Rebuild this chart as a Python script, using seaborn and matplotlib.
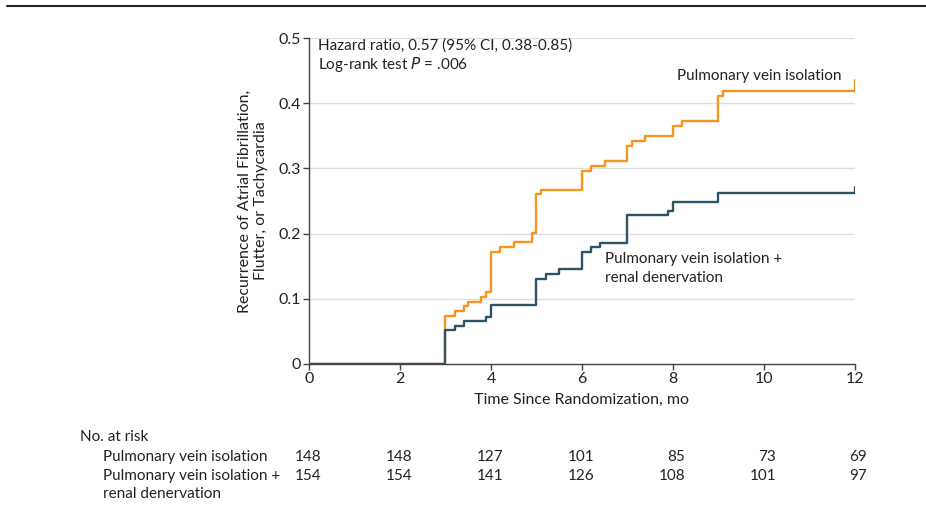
import pandas as pd
import numpy as np
import matplotlib.pyplot as plt
import matplotlib.transforms as mtransforms
import seaborn as sns

# Kaplan-Meier style cumulative incidence
pvi_time = [0, 3.0, 3.21, 3.40, 3.50, 3.79, 3.90, 4.0, 4.19, 4.50, 4.91, 5.0, 5.10,
            6.0, 6.2, 6.5, 7.0, 7.1, 7.39, 8.0, 8.2, 9.0, 9.1, 12.0]
pvi_rate = [0, 0.073, 0.081, 0.0885, 0.095, 0.102, 0.110, 0.172, 0.1795, 0.187, 0.201,
            0.260, 0.267, 0.296, 0.303, 0.311, 0.334, 0.342, 0.349, 0.365, 0.372,
            0.411, 0.418, 0.435]
rdn_time = [0, 3.0, 3.21, 3.40, 3.90, 4.0, 5.0, 5.2, 5.5, 6.0, 6.2, 6.4, 7.0, 7.9,
            8.0, 9.0, 12.0]
rdn_rate = [0, 0.0517, 0.059, 0.0655, 0.072, 0.091, 0.131, 0.138, 0.145, 0.172, 0.179,
            0.186, 0.228, 0.234, 0.249, 0.263, 0.271]

risk_months = [0, 2, 4, 6, 8, 10, 12]
risk_pvi = [148, 148, 127, 101, 85, 73, 69]
risk_rdn = [154, 154, 141, 126, 108, 101, 97]

groups = ['Pulmonary vein isolation', 'Pulmonary vein isolation + renal denervation']
colors = {groups[0]: '#F7941D', groups[1]: '#2D5466'}

df = pd.concat([
    pd.DataFrame({'time': pvi_time, 'rate': pvi_rate, 'group': groups[0]}),
    pd.DataFrame({'time': rdn_time, 'rate': rdn_rate, 'group': groups[1]}),
])

sns.set_style('white')
plt.rcParams['font.family'] = ['Lato', 'DejaVu Sans']
text_col = '#222222'
fs = 11

fig = plt.figure(figsize=(9.26, 5.22), dpi=100)
ax = fig.add_axes([0.3337, 0.3027, 0.5896, 0.6245])

for y in [0.1, 0.2, 0.3, 0.4, 0.5]:
    ax.axhline(y, color='#dddddd', lw=1, zorder=0)

sns.lineplot(data=df, x='time', y='rate', hue='group', palette=colors,
             drawstyle='steps-post', linewidth=1.7, legend=False, ax=ax,
             estimator=None, sort=False)

ax.set_xlim(0, 12)
ax.set_ylim(0, 0.5)
ax.set_xticks(range(0, 13, 2))
ax.set_yticks([0, 0.1, 0.2, 0.3, 0.4, 0.5])
ax.set_yticklabels(['0', '0.1', '0.2', '0.3', '0.4', '0.5'])
ax.tick_params(axis='both', direction='out', length=4, width=1, color='#444444',
               labelsize=11.5, labelcolor=text_col, pad=2, left=True, bottom=True)
for s in ['top', 'right']:
    ax.spines[s].set_visible(False)
for s in ['left', 'bottom']:
    ax.spines[s].set_color('#444444')
    ax.spines[s].set_linewidth(1)

ax.set_xlabel('Time Since Randomization, mo', fontsize=11.5, color=text_col, labelpad=5)
ax.set_ylabel('Recurrence of Atrial Fibrillation,\nFlutter, or Tachycardia',
              fontsize=11.5, color=text_col, labelpad=7)

ax.text(0.2, 0.488, 'Hazard ratio, 0.57 (95% CI, 0.38-0.85)', fontsize=fs,
        color=text_col, va='center')
ax.text(0.2, 0.46, 'Log-rank test $\\it{P}$ = .006', fontsize=fs,
        color=text_col, va='center')
ax.text(11.7, 0.441, 'Pulmonary vein isolation', fontsize=fs, color=text_col,
        ha='right', va='center')
ax.text(6.5, 0.172, 'Pulmonary vein isolation +\nrenal denervation', fontsize=fs,
        color=text_col, ha='left', va='top', linespacing=1.5)

# number at risk table
trans = mtransforms.blended_transform_factory(ax.transData, fig.transFigure)
fig.text(80 / 926, 1 - 437 / 522, 'No. at risk', fontsize=fs, color=text_col, va='center')
fig.text(103 / 926, 1 - 457 / 522, 'Pulmonary vein isolation', fontsize=fs,
         color=text_col, va='center')
fig.text(103 / 926, 1 - 476 / 522, 'Pulmonary vein isolation +', fontsize=fs,
         color=text_col, va='center')
fig.text(103 / 926, 1 - 494 / 522, 'renal denervation', fontsize=fs,
         color=text_col, va='center')
for m, a, b in zip(risk_months, risk_pvi, risk_rdn):
    ax.text(m + 0.27, 1 - 457 / 522, str(a), transform=trans, fontsize=fs,
            color=text_col, ha='right', va='center', clip_on=False)
    ax.text(m + 0.27, 1 - 476 / 522, str(b), transform=trans, fontsize=fs,
            color=text_col, ha='right', va='center', clip_on=False)

# top rule
fig.add_artist(plt.Line2D([7 / 926, 1], [1 - 6 / 522, 1 - 6 / 522],
                          transform=fig.transFigure, color='#222222', lw=1.5))

fig.savefig('out.png', dpi=100)
